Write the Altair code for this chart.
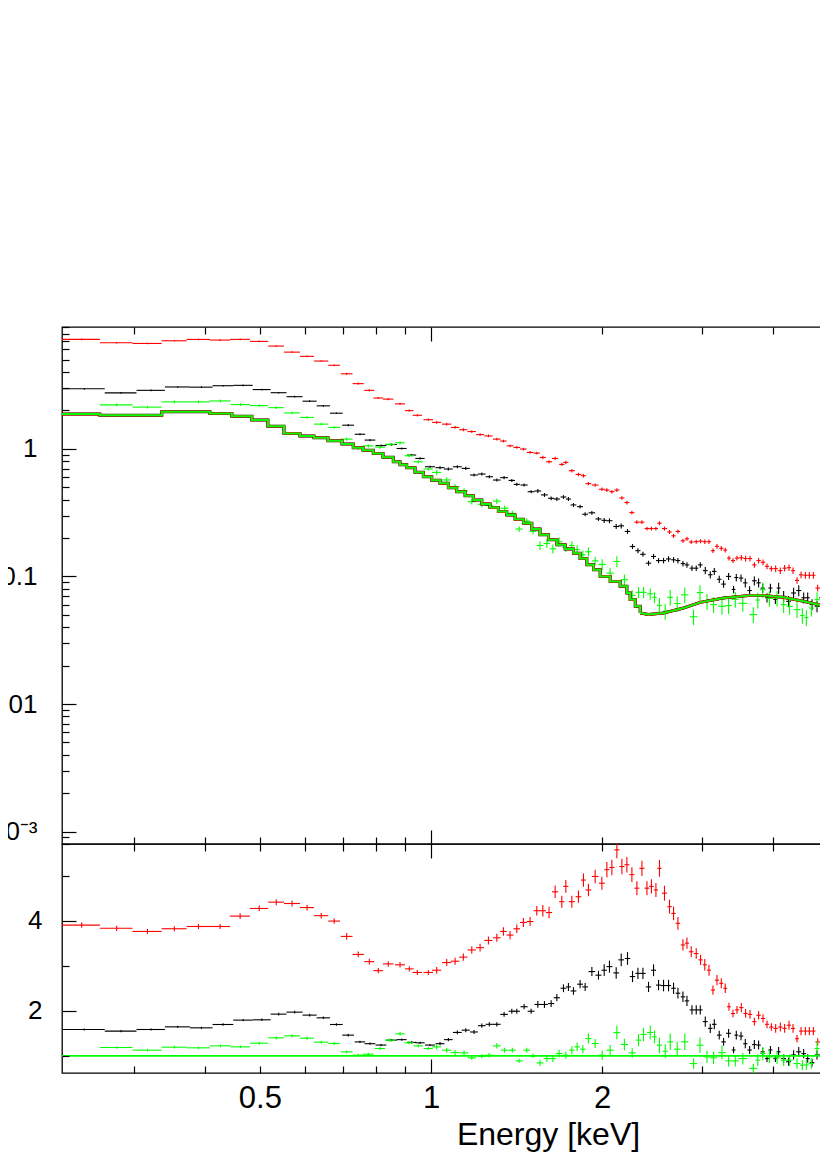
import altair as alt
import pandas as pd

FONT = "Liberation Sans"
RED = "#ff0000"
GREEN = "#00ff00"
BLACK = "#000000"

# ---------------- tick / label values ----------------
X_MAJOR = [1, 10]
X_MINOR = [0.3, 0.4, 0.5, 0.6, 0.7, 0.8, 0.9, 2, 3, 4, 5, 6, 7, 8, 9]
Y_TOP_MAJOR = [0.001, 0.01, 0.1, 1]
Y_TOP_MINOR = [0.0008, 0.0009, 0.002, 0.003, 0.004, 0.005, 0.006, 0.007, 0.008, 0.009,
               0.02, 0.03, 0.04, 0.05, 0.06, 0.07, 0.08, 0.09,
               0.2, 0.3, 0.4, 0.5, 0.6, 0.7, 0.8, 0.9, 2, 3, 4, 5, 6, 7, 8, 9]
Y_BOT_MAJOR = [2, 4]
Y_BOT_MINOR = [1, 3, 5]
RATIO_MODEL = [1.0]

# ---------------- data group 1 (black) ----------------
blk_e = [0.2455, 0.2850, 0.3218, 0.3584, 0.3946, 0.4308, 0.4672, 0.5040, 0.5396, 0.5756, 0.6117, 0.6467, 0.6816,
         0.7150, 0.7499, 0.7810, 0.8167, 0.8527, 0.8880, 0.9247, 0.9564, 0.9960, 1.0371,
         1.0727, 1.1125, 1.1511, 1.1903, 1.2284, 1.2663, 1.3054, 1.3445, 1.3871, 1.4154,
         1.4579, 1.4999, 1.5413, 1.5832, 1.6267, 1.6647, 1.7099, 1.7447, 1.7806, 1.8289,
         1.8669, 1.9184, 1.9704, 2.0165, 2.0601, 2.1170, 2.1604, 2.2163, 2.2617, 2.3117,
         2.3590, 2.4133, 2.4627, 2.5131, 2.5645, 2.6170, 2.6706, 2.7184, 2.7741, 2.8198,
         2.8774, 2.9277, 2.9760, 3.0369, 3.0990, 3.1498, 3.2137, 3.2704, 3.3375, 3.4058,
         3.4435, 3.5100, 3.5715, 3.6346, 3.7047, 3.7692, 3.8314, 3.8999, 3.9537, 4.0339,
         4.0876, 4.1714, 4.2560, 4.3431, 4.4345, 4.5240, 4.5982, 4.6800, 4.7753, 4.8545, 4.9403]
blk_de = [0.0212, 0.0183, 0.0185, 0.0182, 0.0181, 0.0181, 0.0184, 0.0184, 0.0173, 0.0187, 0.0175, 0.0175, 0.0175,
          0.017, 0.016, 0.017, 0.018, 0.018, 0.018, 0.017, 0.018, 0.020, 0.019,
          0.019, 0.020, 0.019, 0.019, 0.019, 0.019, 0.020, 0.021, 0.018, 0.018,
          0.021, 0.021, 0.021, 0.022, 0.020, 0.021, 0.020, 0.018, 0.021, 0.022,
          0.022, 0.026, 0.024, 0.022, 0.025, 0.025, 0.025, 0.025, 0.025, 0.024,
          0.026, 0.026, 0.025, 0.026, 0.026, 0.027, 0.025, 0.026, 0.025, 0.026,
          0.027, 0.025, 0.028, 0.030, 0.028, 0.029, 0.030, 0.031, 0.034, 0.026,
          0.027, 0.032, 0.031, 0.033, 0.034, 0.033, 0.033, 0.030, 0.033, 0.034,
          0.033, 0.040, 0.043, 0.044, 0.045, 0.041, 0.039, 0.044, 0.044, 0.040, 0.043]
blk_v = [2.95, 2.74, 2.87, 3.05, 3.04, 3.12, 3.14, 2.91, 2.75, 2.56, 2.36, 2.17, 1.90,
         1.53, 1.30, 1.17, 1.06, 1.08, 1.005, 0.893, 0.840, 0.723, 0.711,
         0.694, 0.723, 0.702, 0.623, 0.634, 0.604, 0.569, 0.594, 0.565, 0.526,
         0.520, 0.461, 0.467, 0.435, 0.409, 0.404, 0.419, 0.404, 0.363, 0.352,
         0.307, 0.315, 0.282, 0.275, 0.273, 0.246, 0.249, 0.225, 0.1715, 0.159,
         0.149, 0.127, 0.1433, 0.133, 0.133, 0.137, 0.135, 0.133, 0.126, 0.123,
         0.116, 0.116, 0.123, 0.111, 0.103, 0.1095, 0.095, 0.087, 0.100, 0.079,
         0.098, 0.097, 0.089, 0.0775, 0.0924, 0.089, 0.081, 0.068, 0.081, 0.066,
         0.081, 0.0698, 0.0638, 0.0741, 0.0775, 0.068, 0.068, 0.0603, 0.0583, 0.068, 0.0566]
blk_ratio = [1.585, 1.549, 1.585, 1.644, 1.622, 1.696, 1.793, 1.80, 1.926, 1.97, 1.904, 1.844, 1.696,
             1.46, 1.31, 1.27, 1.24, 1.35, 1.36, 1.30, 1.29, 1.24, 1.27,
             1.36, 1.52, 1.57, 1.53, 1.67, 1.70, 1.70, 1.92, 1.99, 1.99,
             2.09, 1.99, 2.14, 2.14, 2.16, 2.29, 2.50, 2.53, 2.44, 2.59,
             2.53, 2.87, 2.79, 2.90, 2.98, 2.84, 3.13, 3.16, 2.76, 2.83,
             2.83, 2.53, 2.90, 2.57, 2.56, 2.56, 2.50, 2.39, 2.31, 2.22,
             2.02, 2.02, 2.02, 1.76, 1.61, 1.70, 1.46, 1.31, 1.50, 1.13,
             1.46, 1.44, 1.27, 1.13, 1.25, 1.24, 1.09, 0.94, 1.13, 0.94,
             1.09, 0.94, 0.87, 1.02, 1.09, 1.05, 0.94, 0.85, 1.02, 1.02, 0.87]
blk_rel = [0.015, 0.015, 0.015, 0.015, 0.015, 0.015, 0.015, 0.015, 0.015, 0.015, 0.015, 0.015, 0.015,
           0.02, 0.02, 0.02, 0.02, 0.02, 0.02, 0.02, 0.02, 0.02, 0.028,
           0.028, 0.028, 0.028, 0.028, 0.028, 0.028, 0.028, 0.028, 0.028, 0.028,
           0.028, 0.028, 0.035, 0.035, 0.035, 0.035, 0.035, 0.035, 0.035, 0.035,
           0.035, 0.035, 0.035, 0.045, 0.045, 0.045, 0.045, 0.045, 0.045, 0.045,
           0.045, 0.045, 0.045, 0.045, 0.05, 0.05, 0.05, 0.05, 0.05, 0.05,
           0.05, 0.05, 0.05, 0.065, 0.065, 0.065, 0.065, 0.065, 0.065, 0.065,
           0.065, 0.065, 0.08, 0.08, 0.08, 0.08, 0.08, 0.08, 0.08, 0.08,
           0.1, 0.1, 0.1, 0.1, 0.1, 0.1, 0.1, 0.1, 0.1, 0.1, 0.1]

# ---------------- data group 2 (red) ----------------
red_e = [0.2429, 0.2799, 0.3171, 0.3536, 0.3899, 0.4256, 0.4615, 0.4987, 0.5342, 0.5696, 0.6052, 0.6409, 0.6755,
         0.7106, 0.7447, 0.7788, 0.8077, 0.8409, 0.8820, 0.9158, 0.9460, 0.9890, 1.0233,
         1.0656, 1.1023, 1.1399, 1.1795, 1.2198, 1.2617, 1.3054, 1.3407, 1.3774, 1.4154,
         1.4538, 1.4937, 1.5348, 1.5727, 1.6131, 1.6530, 1.6985, 1.7262, 1.7689, 1.8168,
         1.8540, 1.8919, 1.9441, 1.9977, 2.0386, 2.0803, 2.1229, 2.1664, 2.2107, 2.2560,
         2.3022, 2.3496, 2.3977, 2.4417, 2.4866, 2.5229, 2.5746, 2.6273, 2.6706, 2.7184,
         2.7741, 2.8198, 2.8690, 2.9277, 2.9794, 3.0306, 3.0827, 3.1329, 3.1842, 3.2404,
         3.2931, 3.3428, 3.3978, 3.4532, 3.5143, 3.5756, 3.6404, 3.7047, 3.7692, 3.8375,
         3.8999, 3.9688, 4.0389, 4.1159, 4.1879, 4.2628, 4.3331, 4.4037, 4.4762, 4.5552,
         4.6294, 4.7049, 4.7880, 4.8860, 4.9860]
red_de = [0.0186, 0.0185, 0.0187, 0.0179, 0.0185, 0.0173, 0.0187, 0.0185, 0.0170, 0.0184, 0.0172, 0.0186, 0.0161,
          0.017, 0.017, 0.016, 0.016, 0.018, 0.018, 0.016, 0.018, 0.019, 0.019,
          0.020, 0.019, 0.019, 0.020, 0.020, 0.021, 0.020, 0.018, 0.019, 0.019,
          0.020, 0.020, 0.020, 0.020, 0.020, 0.021, 0.018, 0.018, 0.022, 0.021,
          0.019, 0.022, 0.026, 0.024, 0.021, 0.021, 0.022, 0.022, 0.022, 0.023,
          0.023, 0.024, 0.023, 0.022, 0.021, 0.022, 0.026, 0.024, 0.023, 0.025,
          0.025, 0.024, 0.027, 0.028, 0.026, 0.026, 0.025, 0.026, 0.027, 0.027,
          0.026, 0.026, 0.028, 0.029, 0.031, 0.031, 0.032, 0.032, 0.033, 0.033,
          0.033, 0.035, 0.037, 0.037, 0.036, 0.036, 0.035, 0.036, 0.038, 0.038,
          0.038, 0.040, 0.044, 0.049, 0.050]
red_v = [7.2, 6.77, 6.69, 7.02, 7.19, 7.11, 7.2, 6.94, 6.38, 5.72, 5.30, 4.87, 4.51,
         3.87, 3.24, 2.87, 2.50, 2.45, 2.25, 1.99, 1.83, 1.69, 1.61,
         1.56, 1.47, 1.41, 1.365, 1.29, 1.26, 1.19, 1.15, 1.055, 1.024,
         0.995, 0.936, 0.925, 0.855, 0.791, 0.840, 0.754, 0.782, 0.673, 0.629,
         0.615, 0.533, 0.520, 0.482, 0.475, 0.461, 0.475, 0.412, 0.379, 0.316,
         0.266, 0.266, 0.237, 0.237, 0.237, 0.261, 0.237, 0.223, 0.208, 0.225,
         0.190, 0.197, 0.186, 0.187, 0.189, 0.187, 0.187, 0.159, 0.172, 0.166,
         0.161, 0.139, 0.133, 0.139, 0.140, 0.138, 0.138, 0.123, 0.133, 0.129,
         0.120, 0.115, 0.115, 0.111, 0.116, 0.117, 0.111, 0.093, 0.103, 0.102,
         0.102, 0.102, 0.081, 0.094, 0.080]
red_ratio = [3.90, 3.83, 3.76, 3.82, 3.87, 3.87, 4.10, 4.27, 4.41, 4.38, 4.29, 4.11, 3.99,
             3.65, 3.25, 3.09, 2.89, 3.04, 3.02, 2.93, 2.85, 2.85, 2.90,
             3.07, 3.10, 3.19, 3.35, 3.40, 3.56, 3.62, 3.76, 3.68, 3.82,
             3.96, 3.98, 4.22, 4.22, 4.18, 4.64, 4.42, 4.76, 4.42, 4.53,
             4.90, 4.68, 4.98, 4.83, 5.13, 5.18, 5.57, 5.20, 5.24, 5.02,
             4.72, 5.16, 4.72, 4.76, 4.68, 5.16, 4.61, 4.31, 4.16, 3.94,
             3.46, 3.50, 3.31, 3.27, 3.13, 3.02, 2.90, 2.46, 2.68, 2.61,
             2.50, 2.09, 1.94, 2.02, 2.07, 1.94, 1.92, 1.76, 1.90, 1.83,
             1.70, 1.64, 1.61, 1.64, 1.61, 1.68, 1.61, 1.38, 1.55, 1.55,
             1.55, 1.55, 1.31, 1.55, 1.31]
red_rel = [0.015, 0.015, 0.015, 0.015, 0.015, 0.015, 0.015, 0.015, 0.015, 0.015, 0.015, 0.015, 0.015,
           0.02, 0.02, 0.02, 0.02, 0.02, 0.02, 0.02, 0.02, 0.02, 0.025,
           0.025, 0.025, 0.025, 0.025, 0.025, 0.025, 0.025, 0.025, 0.025, 0.025,
           0.025, 0.025, 0.025, 0.03, 0.03, 0.03, 0.03, 0.03, 0.03, 0.03,
           0.03, 0.03, 0.03, 0.03, 0.033, 0.033, 0.033, 0.033, 0.033, 0.033,
           0.033, 0.033, 0.033, 0.033, 0.033, 0.036, 0.036, 0.036, 0.036, 0.036,
           0.036, 0.036, 0.036, 0.036, 0.036, 0.042, 0.042, 0.042, 0.042, 0.042,
           0.042, 0.042, 0.042, 0.042, 0.05, 0.05, 0.05, 0.05, 0.05, 0.05,
           0.05, 0.05, 0.06, 0.06, 0.06, 0.06, 0.06, 0.06, 0.06, 0.06,
           0.06, 0.06, 0.06, 0.06, 0.06]

# ---------------- data group 3 (green) ----------------
grn_e = [0.2799, 0.3171, 0.3536, 0.3899, 0.4262, 0.4622, 0.4987, 0.5342, 0.5696, 0.6052, 0.6409, 0.6755,
         0.7106, 0.7447, 0.7755, 0.8133, 0.8469, 0.8820, 0.9148, 0.9497, 0.9890, 1.0233,
         1.0656, 1.1023, 1.1432, 1.1795, 1.2284, 1.2648, 1.3054, 1.3473, 1.3900, 1.4287,
         1.4738, 1.5120, 1.5550, 1.5985, 1.6379, 1.6804, 1.7262, 1.7689, 1.8072, 1.8497,
         1.8919, 1.9441, 2.0003, 2.0660, 2.1229, 2.1886, 2.2587, 2.3174, 2.3650, 2.4300,
         2.4725, 2.5219, 2.5823, 2.6350, 2.7108, 2.7947, 2.8960, 2.9725, 3.0580, 3.1409,
         3.2495, 3.3375, 3.4293, 3.5354, 3.6894, 3.7571, 3.8340, 3.9383, 4.0619, 4.1714,
         4.2736, 4.4037, 4.4997, 4.5735, 4.6674, 4.7753, 4.8748, 4.9596]
grn_de = [0.0185, 0.0187, 0.0179, 0.0185, 0.0179, 0.0181, 0.0185, 0.0170, 0.0184, 0.0172, 0.0186, 0.0161,
          0.017, 0.016, 0.017, 0.017, 0.017, 0.017, 0.017, 0.018, 0.018, 0.019,
          0.020, 0.020, 0.019, 0.020, 0.020, 0.020, 0.021, 0.021, 0.020, 0.021,
          0.021, 0.021, 0.022, 0.021, 0.021, 0.022, 0.022, 0.020, 0.020, 0.021,
          0.024, 0.027, 0.030, 0.031, 0.030, 0.033, 0.033, 0.027, 0.029, 0.030,
          0.023, 0.026, 0.028, 0.030, 0.035, 0.042, 0.044, 0.040, 0.042, 0.045,
          0.050, 0.045, 0.050, 0.065, 0.060, 0.035, 0.045, 0.057, 0.060, 0.050,
          0.055, 0.060, 0.040, 0.040, 0.050, 0.050, 0.045, 0.040]
grn_v = [2.21, 2.12, 2.33, 2.33, 2.37, 2.22, 2.18, 2.10, 1.91, 1.76, 1.56, 1.47,
         1.191, 1.009, 1.055, 1.031, 1.084, 1.114, 0.882, 0.791, 0.694, 0.653,
         0.570, 0.505, 0.467, 0.385, 0.367, 0.360, 0.389, 0.342, 0.312, 0.235,
         0.2714, 0.225, 0.1747, 0.1811, 0.1646, 0.1867, 0.1685, 0.1747, 0.1625, 0.1477,
         0.156, 0.1322, 0.1241, 0.1061, 0.131, 0.0942, 0.0710, 0.075, 0.075, 0.0730,
         0.0685, 0.0593, 0.0533, 0.0685, 0.0613, 0.0717, 0.0483, 0.0747, 0.0638, 0.0601,
         0.0583, 0.0591, 0.0661, 0.0615, 0.0502, 0.0653, 0.0787, 0.0673, 0.0677, 0.0601,
         0.0583, 0.0549, 0.0494, 0.0476, 0.0565, 0.0658, 0.0658, 0.0702]
grn_ratio = [1.185, 1.126, 1.193, 1.178, 1.222, 1.20, 1.281, 1.40, 1.444, 1.393, 1.304, 1.274,
             1.089, 1.015, 1.037, 1.163, 1.349, 1.489, 1.289, 1.222, 1.163, 1.20,
             1.126, 1.074, 1.067, 0.956, 0.993, 1.015, 1.222, 1.126, 1.126, 0.889,
             1.126, 1.0, 0.844, 0.94, 0.94, 1.052, 1.015, 1.126, 1.20, 1.148,
             1.384, 1.274, 1.015, 1.126, 1.518, 1.252, 1.067, 1.349, 1.474, 1.518,
             1.422, 1.237, 1.104, 1.311, 1.148, 1.311, 0.83, 1.237, 0.978, 0.956,
             1.074, 0.889, 0.889, 0.94, 0.722, 0.904, 1.052, 0.98, 0.956, 0.904,
             0.904, 0.83, 0.793, 0.80, 0.83, 1.163, 1.015, 1.237]
grn_rel = [0.025, 0.025, 0.025, 0.025, 0.025, 0.025, 0.025, 0.025, 0.025, 0.025, 0.025, 0.025,
           0.03, 0.03, 0.03, 0.03, 0.03, 0.03, 0.03, 0.03, 0.03, 0.05,
           0.05, 0.05, 0.05, 0.05, 0.05, 0.05, 0.05, 0.05, 0.05, 0.05,
           0.05, 0.05, 0.08, 0.08, 0.08, 0.08, 0.08, 0.08, 0.08, 0.08,
           0.08, 0.08, 0.1, 0.1, 0.1, 0.1, 0.1, 0.1, 0.1, 0.1,
           0.1, 0.14, 0.14, 0.14, 0.14, 0.14, 0.14, 0.14, 0.14, 0.14,
           0.14, 0.14, 0.14, 0.14, 0.14, 0.14, 0.14, 0.14, 0.14, 0.14,
           0.14, 0.14, 0.14, 0.14, 0.14, 0.14, 0.14, 0.14]

# ---------------- folded model ----------------
model_step_e = [0.2243, 0.2614, 0.3360, 0.4083, 0.4463, 0.4840, 0.5164, 0.5512, 0.5880, 0.6223,
                0.6587, 0.6973, 0.7297, 0.7592, 0.7914, 0.8231, 0.8582, 0.8820, 0.9062, 0.9372,
                0.9692, 1.0028, 1.0371, 1.0727, 1.1097, 1.1479, 1.1870, 1.2284, 1.2700, 1.3135,
                1.3591, 1.4057, 1.4538, 1.5041, 1.5550, 1.6089, 1.6647, 1.7216, 1.7806, 1.8290,
                1.8798, 1.9310, 1.9840, 2.0660, 2.1510, 2.2107, 2.2400, 2.2869, 2.3330]
model_step_v = [1.87, 1.83, 1.95, 1.89, 1.80, 1.68, 1.50, 1.32, 1.26, 1.22,
                1.155, 1.09, 1.018, 0.973, 0.919, 0.858, 0.791, 0.750, 0.710, 0.655,
                0.604, 0.567, 0.536, 0.496, 0.461, 0.429, 0.397, 0.370, 0.346, 0.322,
                0.303, 0.280, 0.261, 0.235, 0.212, 0.1935, 0.1769, 0.164, 0.152, 0.138,
                0.1235, 0.1128, 0.100, 0.0914, 0.0836, 0.0741, 0.0658, 0.0583, 0.0517]
model_smooth_e = [2.3330, 2.4133, 2.5645, 2.7812, 2.9760, 3.2667, 3.6450, 3.8418, 4.1667, 4.5178,
                  4.8983, 5.0410, 5.4680]
model_smooth_v = [0.0517, 0.0502, 0.0517, 0.0565, 0.0626, 0.0677, 0.0710, 0.0710, 0.0685, 0.0638,
                  0.0590, 0.0573, 0.0533]


def make_df(e, de, v, r, rel):
    n = len(e)
    assert all(len(a) == n for a in (de, v, r, rel)), (n, len(de), len(v), len(r), len(rel))
    df = pd.DataFrame({"e": e, "de": de, "v": v, "r": r, "rel": rel})
    df["e_lo"] = df["e"] - df["de"]
    df["e_hi"] = df["e"] + df["de"]
    df["v_lo"] = df["v"] * (1 - df["rel"])
    df["v_hi"] = df["v"] * (1 + df["rel"])
    df["r_lo"] = df["r"] * (1 - df["rel"])
    df["r_hi"] = df["r"] * (1 + df["rel"])
    return df


blk = make_df(blk_e, blk_de, blk_v, blk_ratio, blk_rel)
red = make_df(red_e, red_de, red_v, red_ratio, red_rel)
grn = make_df(grn_e, grn_de, grn_v, grn_ratio, grn_rel)
model_step = pd.DataFrame({"e": model_step_e, "v": model_step_v})
model_smooth = pd.DataFrame({"e": model_smooth_e, "v": model_smooth_v})
ratio_model = pd.DataFrame({"r": RATIO_MODEL})

XS = alt.Scale(type="log", domain=[0.2243, 11.5], nice=False)
YT = alt.Scale(type="log", domain=[0.0008, 9.0], nice=False)
YB = alt.Scale(type="linear", domain=[0.62, 5.70], nice=False, zero=False)


def tick_axis(orient, values, size, **kw):
    props = dict(orient=orient, values=values, tickSize=size, offset=-size,
                 domain=False, grid=False, ticks=True, tickColor=BLACK,
                 tickWidth=1.2, labels=False, title=None, labelOverlap=False,
                 labelFlush=False, zindex=1)
    props.update(kw)
    return alt.Axis(**props)


TOP_Y_LABELS = ("datum.value > 0.5 ? '1' : datum.value > 0.05 ? '0.1' : "
                "datum.value > 0.005 ? '0.01' : '10\u207b\u00b3'")
X_MAJ_LABELS = "datum.value < 5 ? '1' : '10'"
X_MIN_LABELS = ("datum.value == 0.5 ? '0.5' : datum.value == 2 ? '2' : "
                "datum.value == 5 ? '5' : ''")

t_xb_maj = tick_axis("bottom", X_MAJOR, 14)
t_xb_min = tick_axis("bottom", X_MINOR, 7)
t_xt_maj = tick_axis("top", X_MAJOR, 14)
t_xt_min = tick_axis("top", X_MINOR, 7)
t_y_maj = tick_axis("left", Y_TOP_MAJOR, 14, labels=True, labelExpr=TOP_Y_LABELS,
                    labelFontSize=26, labelPadding=25)
t_y_min = tick_axis("left", Y_TOP_MINOR, 7)

b_xb_maj = tick_axis("bottom", X_MAJOR, 14, labels=True, labelExpr=X_MAJ_LABELS,
                     labelFontSize=31, labelPadding=10, title="Energy [keV]",
                     titleFontSize=32, titlePadding=6, titleFontWeight="normal")
b_xb_min = tick_axis("bottom", X_MINOR, 7, labels=True, labelExpr=X_MIN_LABELS,
                     labelFontSize=31, labelPadding=10)
b_xt_maj = tick_axis("top", X_MAJOR, 14)
b_xt_min = tick_axis("top", X_MINOR, 7)
b_y_maj = tick_axis("left", Y_BOT_MAJOR, 14, labels=True, labelFontSize=26,
                    labelPadding=20, format="d")
b_y_min = tick_axis("left", Y_BOT_MINOR, 7)


def hbars(df, color, yfield, yscale, xaxis=None, yaxis=None):
    return alt.Chart(df).mark_rule(color=color, strokeWidth=1.1, clip=True).encode(
        x=alt.X("e_lo:Q", scale=XS, axis=xaxis),
        x2=alt.X2("e_hi:Q"),
        y=alt.Y(yfield + ":Q", scale=yscale, axis=yaxis),
    )


def vbars(df, color, lo, hi, yscale, xaxis=None, yaxis=None):
    return alt.Chart(df).mark_rule(color=color, strokeWidth=1.1, clip=True).encode(
        x=alt.X("e:Q", scale=XS, axis=xaxis),
        y=alt.Y(lo + ":Q", scale=yscale, axis=yaxis),
        y2=alt.Y2(hi + ":Q"),
    )


def model_line(df, color, width, interp):
    return alt.Chart(df).mark_line(color=color, strokeWidth=width, interpolate=interp,
                                   clip=True).encode(
        x=alt.X("e:Q", scale=XS, axis=None),
        y=alt.Y("v:Q", scale=YT, axis=None),
    )


top = alt.layer(
    hbars(blk, BLACK, "v", YT, t_xb_maj, t_y_maj),
    vbars(blk, BLACK, "v_lo", "v_hi", YT, t_xb_min, t_y_min),
    hbars(red, RED, "v", YT, t_xt_maj, None),
    vbars(red, RED, "v_lo", "v_hi", YT, t_xt_min, None),
    hbars(grn, GREEN, "v", YT),
    vbars(grn, GREEN, "v_lo", "v_hi", YT),
    model_line(model_step, BLACK, 3.0, "step-after"),
    model_line(model_smooth, BLACK, 3.0, "linear"),
    model_line(model_step, RED, 2.6, "step-after"),
    model_line(model_smooth, RED, 2.6, "linear"),
    model_line(model_step, GREEN, 2.0, "step-after"),
    model_line(model_smooth, GREEN, 2.0, "linear"),
).resolve_axis(x="independent", y="independent").properties(width=972, height=517)

ratio_line = alt.Chart(ratio_model).mark_rule(color=GREEN, strokeWidth=1.6).encode(
    y=alt.Y("r:Q", scale=YB, axis=None)
)

bottom = alt.layer(
    hbars(blk, BLACK, "r", YB, b_xb_maj, b_y_maj),
    vbars(blk, BLACK, "r_lo", "r_hi", YB, b_xb_min, b_y_min),
    hbars(red, RED, "r", YB, b_xt_maj, None),
    vbars(red, RED, "r_lo", "r_hi", YB, b_xt_min, None),
    hbars(grn, GREEN, "r", YB),
    vbars(grn, GREEN, "r_lo", "r_hi", YB),
    ratio_line,
).resolve_axis(x="independent", y="independent").properties(width=972, height=229)

# The reference is a crop of a wider figure: negative side paddings cut the
# drawing at the window edges, like the reference does. "flush" bounds stack
# the two panels plot-area to plot-area.
chart = alt.vconcat(top, bottom, spacing=0, bounds="flush").properties(
    padding={"left": -23, "top": 317, "right": -216, "bottom": 2},
).configure_view(
    stroke=BLACK, strokeWidth=1.3
).configure_axis(
    labelFont=FONT, titleFont=FONT, labelColor=BLACK, titleColor=BLACK
)

chart.save("out.html", embed_options={"renderer": "svg", "actions": False})
